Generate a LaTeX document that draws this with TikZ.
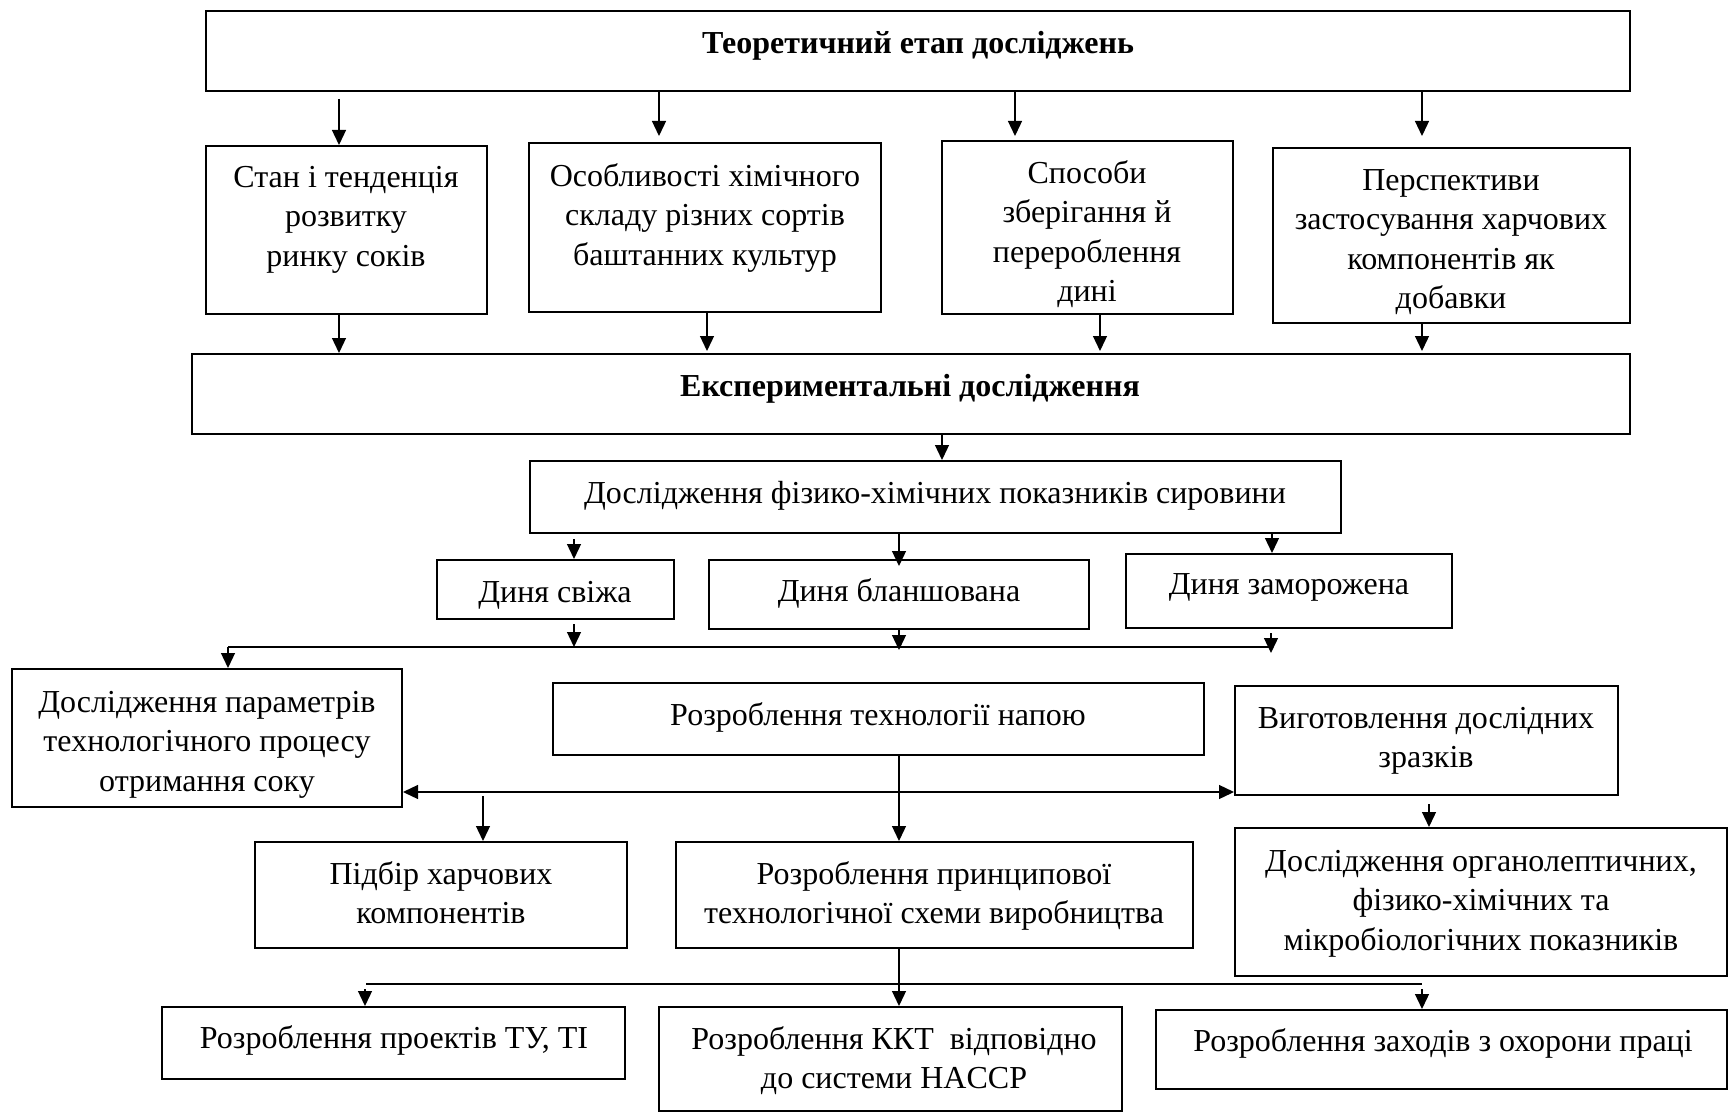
\documentclass[tikz,border=0pt]{standalone}
\usepackage{fontspec}
\setmainfont{Liberation Serif}
\usetikzlibrary{arrows.meta,calc,fit}
\begin{document}
\begin{tikzpicture}[x=1pt,y=-1pt,
  box/.style={draw, line width=2pt, inner sep=0pt},
  txt/.style={font=\fontsize{32}{39.5}\selectfont, align=center, inner sep=0pt, anchor=north, execute at begin node=\strut},
  arr/.style={line width=1.3pt, -{Triangle[length=15pt,width=14pt]}},
  dblarr/.style={line width=1.3pt, {Triangle[length=15pt,width=14pt]}-{Triangle[length=15pt,width=14pt]}},
  ln/.style={line width=1.3pt}]
\fill[white] (0,0) rectangle (1730,1113);
\useasboundingbox (0,0) rectangle (1730,1113);
% boxes
\node[box, fit={(206,11) (1630,91)}] (top) {};
\node[box, fit={(206,146) (487,314)}] (stan) {};
\node[box, fit={(529,143) (881,312)}] (osob) {};
\node[box, fit={(942,141) (1233,314)}] (spos) {};
\node[box, fit={(1273,148) (1630,323)}] (persp) {};
\node[box, fit={(192,354) (1630,434)}] (exp) {};
\node[box, fit={(530,461) (1341,533)}] (fiz) {};
\node[box, fit={(437,560) (674,619)}] (svizha) {};
\node[box, fit={(709,560) (1089,629)}] (blansh) {};
\node[box, fit={(1126,554) (1452,628)}] (zamor) {};
\node[box, fit={(12,669) (402,807)}] (param) {};
\node[box, fit={(553,683) (1204,755)}] (napoyu) {};
\node[box, fit={(1235,686) (1618,795)}] (vygot) {};
\node[box, fit={(255,842) (627,948)}] (pidbir) {};
\node[box, fit={(676,842) (1193,948)}] (pryncyp) {};
\node[box, fit={(1235,828) (1727,976)}] (orhan) {};
\node[box, fit={(162,1007) (625,1079)}] (tu) {};
\node[box, fit={(659,1007) (1122,1111)}] (kkt) {};
\node[box, fit={(1156,1010) (1727,1089)}] (okhor) {};
% texts
\node[txt] (ttop) at (918,26) {\bfseries Теоретичний етап досліджень};
\node[txt] (tstan) at (346,166) {Стан і тенденція\\розвитку\\ринку соків};
\node[txt] (tosob) at (705,163) {Особливості хімічного\\складу різних сортів\\баштанних культур};
\node[txt] (tspos) at (1087,160) {Способи\\зберігання й\\перероблення\\дині};
\node[txt] (tpersp) at (1451,169) {Перспективи\\застосування харчових\\компонентів як\\добавки};
\node[txt] (texp) at (910,369) {\bfseries Експериментальні дослідження};
\node[txt] (tfiz) at (935,476) {Дослідження фізико-хімічних показників сировини};
\node[txt] (tsv) at (555,575) {Диня свіжа};
\node[txt] (tbl) at (899,574) {Диня бланшована};
\node[txt] (tzam) at (1289,567) {Диня заморожена};
\node[txt] (tpar) at (207,691) {Дослідження параметрів\\технологічного процесу\\отримання соку};
\node[txt] (tnap) at (878,698) {Розроблення технології напою};
\node[txt] (tvyg) at (1426,707) {Виготовлення дослідних\\зразків};
\node[txt] (tpid) at (441,861) {Підбір харчових\\компонентів};
\node[txt] (tpr) at (934,861) {Розроблення принципової\\технологічної схеми виробництва};
\node[txt] (torh) at (1481,850) {Дослідження органолептичних,\\фізико-хімічних та\\мікробіологічних показників};
\node[txt] (ttu) at (394,1021) {Розроблення проектів ТУ, ТІ};
\node[txt] (tkkt) at (894,1026) {Розроблення ККТ\ \ відповідно\\до системи HACCP};
\node[txt] (tokh) at (1443,1024) {Розроблення заходів з охорони праці};
% helper coordinates
\coordinate (xa) at (339,0);
\coordinate (xb) at (659,0);
\coordinate (xc) at (1015,0);
\coordinate (xd) at (1422,0);
\coordinate (xe) at (707,0);
\coordinate (xf) at (1100,0);
\coordinate (xg) at (942,0);
\coordinate (xh) at (574,0);
\coordinate (xi) at (899,0);
\coordinate (xj) at (1272,0);
\coordinate (xk) at (483,0);
\coordinate (xl) at (1429,0);
\coordinate (xm) at (365,0);
\coordinate (h1L) at (228,647);
\coordinate (h1R) at (1271,647);
\coordinate (dy) at (0,792);
\coordinate (h2L) at (366,984);
\coordinate (h2R) at (1422,984);
% connectors
\draw[arr] ($(top.south -| xa)+(0,7)$) -- (stan.north -| xa);
\draw[arr] (top.south -| xb) -- ($(osob.north -| xb)+(0,-6)$);
\draw[arr] (top.south -| xc) -- ($(spos.north -| xc)+(0,-4)$);
\draw[arr] (top.south -| xd) -- ($(persp.north -| xd)+(0,-11)$);
\draw[arr] (stan.south -| xa) -- (exp.north -| xa);
\draw[arr] (osob.south -| xe) -- ($(exp.north -| xe)+(0,-2)$);
\draw[arr] (spos.south -| xf) -- ($(exp.north -| xf)+(0,-2)$);
\draw[arr] (persp.south -| xd) -- ($(exp.north -| xd)+(0,-2)$);
\draw[arr] (exp.south -| xg) -- (fiz.north -| xg);
\draw[arr] ($(fiz.south -| xh)+(0,5)$) -- (svizha.north -| xh);
\draw[arr] (fiz.south -| xi) -- ($(blansh.north -| xi)+(0,7)$);
\draw[arr] (fiz.south -| xj) -- (zamor.north -| xj);
\draw[arr] ($(svizha.south -| xh)+(0,4)$) -- (h1L -| xh);
\draw[arr] (blansh.south -| xi) -- ($(h1L -| xi)+(0,3)$);
\draw[arr] ($(zamor.south -| h1R)+(0,4)$) -- ($(h1R)+(0,6)$);
\draw[ln] (h1L) -- (h1R);
\draw[arr] (h1L) -- (param.north -| h1L);
\draw[dblarr] (param.east |- dy) -- (vygot.west |- dy);
\draw[arr] (napoyu.south -| xi) -- (pryncyp.north -| xi);
\draw[arr] ($(dy -| xk)+(0,4)$) -- (pidbir.north -| xk);
\draw[arr] ($(vygot.south -| xl)+(0,8)$) -- (orhan.north -| xl);
\draw[arr] (pryncyp.south -| xi) -- (kkt.north -| xi);
\draw[ln] (h2L) -- (h2R);
\draw[arr] ($(h2L -| xm)+(0,5)$) -- (tu.north -| xm);
\draw[arr] ($(h2R)+(0,5)$) -- (okhor.north -| h2R);
\end{tikzpicture}
\end{document}
